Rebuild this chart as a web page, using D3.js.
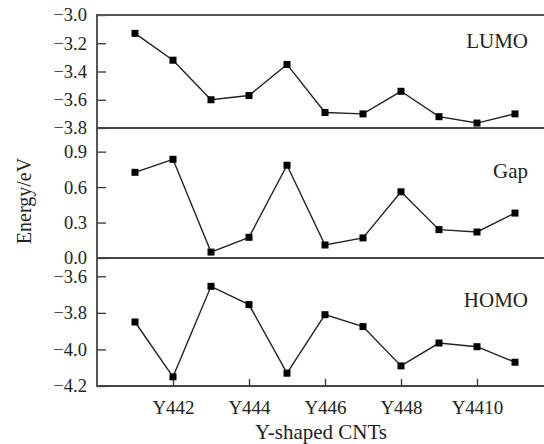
<!DOCTYPE html>
<html>
<head>
<meta charset="utf-8">
<script src="https://cdn.jsdelivr.net/npm/d3@7"></script>
<style>
  body { margin: 0; background: #fff; }
  svg text { font-family: "Liberation Serif", "Times New Roman", serif; fill: #222; }
</style>
</head>
<body>
<svg class="chart" width="544" height="444"></svg>
<script>
// Y-shaped CNTs, one value per structure
const categories = ['Y441', 'Y442', 'Y443', 'Y444', 'Y445', 'Y446', 'Y447', 'Y448', 'Y449', 'Y4410', 'Y4411'];
const lumo = [-3.13, -3.32, -3.60, -3.57, -3.35, -3.69, -3.70, -3.54, -3.72, -3.765, -3.70];
const gap = [0.725, 0.835, 0.05, 0.175, 0.785, 0.11, 0.17, 0.56, 0.24, 0.22, 0.38];
const homo = [-3.85, -4.15, -3.655, -3.755, -4.13, -3.81, -3.875, -4.09, -3.965, -3.985, -4.07];

const lumoTicks = [-3.8, -3.6, -3.4, -3.2, -3.0];
const gapTicks = [0.0, 0.3, 0.6, 0.9];
const homoTicks = [-4.2, -4.0, -3.8, -3.6];
const xTickLabels = ['Y442', 'Y444', 'Y446', 'Y448', 'Y4410'];

const svg = d3.select('svg.chart');
const left = 97, right = 544;

// index 0 sits on the left axis, one step = 38px
const x = d3.scaleLinear()
  .domain([0, 12])
  .range([left, left + 12 * 38]);

const panels = [
  { name: 'LUMO', values: lumo, ticks: lumoTicks, domain: [-3.8, -3.0], top: 15, bottom: 128, labelY: 48 },
  { name: 'Gap', values: gap, ticks: gapTicks, domain: [0, 1.1], top: 128, bottom: 258, labelY: 178 },
  { name: 'HOMO', values: homo, ticks: homoTicks, domain: [-4.2, -3.5], top: 258, bottom: 386, labelY: 307 }
];

const fmt = d3.format('.1f');

panels.forEach(p => {
  const y = d3.scaleLinear().domain(p.domain).range([p.bottom, p.top]);

  // y axis, ticks pointing inward
  const g = svg.append('g')
    .attr('transform', `translate(${left},0)`)
    .call(d3.axisLeft(y)
      .tickValues(p.ticks)
      .tickFormat(fmt)
      .tickSizeInner(-9)
      .tickSizeOuter(0)
      .tickPadding(10));
  g.select('.domain').remove();
  g.selectAll('.tick line').attr('stroke', '#333').attr('stroke-width', 1.3);
  g.selectAll('.tick text')
    .attr('font-size', 18.5)
    .attr('font-family', '"Liberation Serif", serif')
    .attr('fill', '#222');

  // line through the points
  const line = d3.line()
    .x((d, i) => x(i + 1))
    .y(d => y(d));

  svg.append('path')
    .datum(p.values)
    .attr('d', line)
    .attr('fill', 'none')
    .attr('stroke', '#222')
    .attr('stroke-width', 1.4);

  // square markers
  svg.append('g')
    .selectAll('rect')
    .data(p.values)
    .enter()
    .append('rect')
    .attr('x', (d, i) => x(i + 1) - 3.5)
    .attr('y', d => y(d) - 3.5)
    .attr('width', 7)
    .attr('height', 7)
    .attr('fill', '#000');

  // panel name
  svg.append('text')
    .attr('x', 528)
    .attr('y', p.labelY)
    .attr('text-anchor', 'end')
    .attr('font-size', 21)
    .text(p.name);

  // bottom edge of the panel
  svg.append('line')
    .attr('x1', left).attr('x2', right)
    .attr('y1', p.bottom).attr('y2', p.bottom)
    .attr('stroke', '#444')
    .attr('stroke-width', 1.8);
});

// frame: top line and left axis
svg.append('line')
  .attr('x1', left).attr('x2', right)
  .attr('y1', 15).attr('y2', 15)
  .attr('stroke', '#555')
  .attr('stroke-width', 2);
svg.append('line')
  .attr('x1', left).attr('x2', left)
  .attr('y1', 14).attr('y2', 387)
  .attr('stroke', '#444')
  .attr('stroke-width', 1.8);

// x axis with even labels only
const xAxis = svg.append('g')
  .attr('transform', 'translate(0,386)')
  .call(d3.axisBottom(x)
    .tickValues(xTickLabels.map(c => categories.indexOf(c) + 1))
    .tickFormat(v => categories[v - 1])
    .tickSizeInner(-7)
    .tickSizeOuter(0)
    .tickPadding(15));
xAxis.select('.domain').remove();
xAxis.selectAll('.tick line').attr('stroke', '#333').attr('stroke-width', 1.3);
xAxis.selectAll('.tick text')
  .attr('font-size', 19)
  .attr('font-family', '"Liberation Serif", serif')
  .attr('fill', '#222');

// axis titles
svg.append('text')
  .attr('x', 321)
  .attr('y', 439)
  .attr('text-anchor', 'middle')
  .attr('font-size', 21)
  .text('Y-shaped CNTs');

svg.append('text')
  .attr('transform', 'translate(31,201) rotate(-90)')
  .attr('text-anchor', 'middle')
  .attr('font-size', 20)
  .text('Energy/eV');
</script>
</body>
</html>
